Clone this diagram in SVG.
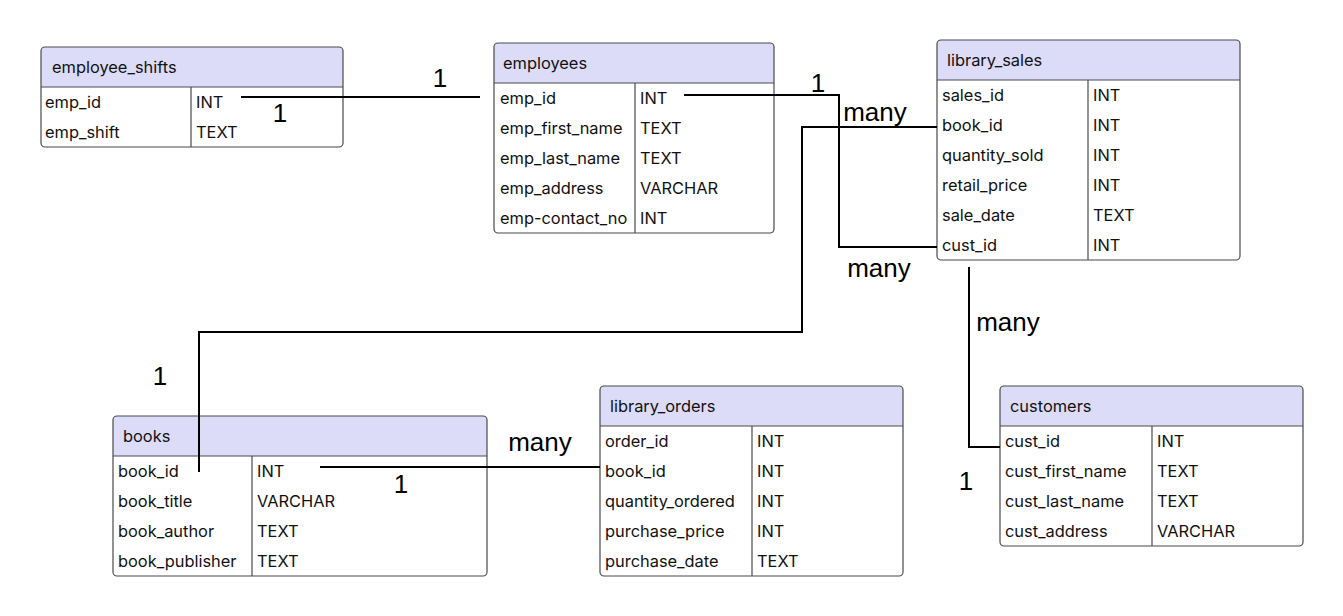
<svg xmlns="http://www.w3.org/2000/svg" width="1343" height="616" viewBox="0 0 1343 616">
<style>
.bg{fill:#ffffff}
.box{fill:none;stroke:#4a4a4a;stroke-width:1.2}
.hdr{fill:#dcdcf9}
.sep{stroke:#4a4a4a;stroke-width:1.2}
.t{font-family:Inter,"Liberation Sans",sans-serif;font-size:16.4px;fill:#111}
.conn{fill:none;stroke:#000;stroke-width:2}
.lbl{font-family:"Liberation Sans",Arial,sans-serif;font-size:26px;fill:#000;text-anchor:middle}
</style>
<rect x="0" y="0" width="1343" height="616" fill="#ffffff"/>

<g id="employee_shifts">
<rect class="bg" x="41" y="47" width="302" height="100" rx="4"/>
<path class="hdr" d="M41 87V51a4 4 0 0 1 4-4H339a4 4 0 0 1 4 4V87Z"/>
<line class="sep" x1="41" y1="87" x2="343" y2="87"/>
<line class="sep" x1="191" y1="87" x2="191" y2="147"/>
<rect class="box" x="41" y="47" width="302" height="100" rx="4"/>
<text class="t" x="52" y="73">employee_shifts</text>
<text class="t" x="45" y="108">emp_id</text><text class="t" x="196" y="108">INT</text>
<text class="t" x="45" y="138">emp_shift</text><text class="t" x="196" y="138">TEXT</text>
</g>

<g id="employees">
<rect class="bg" x="494" y="43" width="280" height="190" rx="4"/>
<path class="hdr" d="M494 83V47a4 4 0 0 1 4-4H770a4 4 0 0 1 4 4V83Z"/>
<line class="sep" x1="494" y1="83" x2="774" y2="83"/>
<line class="sep" x1="635" y1="83" x2="635" y2="233"/>
<rect class="box" x="494" y="43" width="280" height="190" rx="4"/>
<text class="t" x="503" y="69">employees</text>
<text class="t" x="500" y="104">emp_id</text><text class="t" x="640" y="104">INT</text>
<text class="t" x="500" y="134">emp_first_name</text><text class="t" x="640" y="134">TEXT</text>
<text class="t" x="500" y="164">emp_last_name</text><text class="t" x="640" y="164">TEXT</text>
<text class="t" x="500" y="194">emp_address</text><text class="t" x="640" y="194">VARCHAR</text>
<text class="t" x="500" y="224">emp-contact_no</text><text class="t" x="640" y="224">INT</text>
</g>

<g id="library_sales">
<rect class="bg" x="937" y="40" width="303" height="220" rx="4"/>
<path class="hdr" d="M937 80V44a4 4 0 0 1 4-4H1236a4 4 0 0 1 4 4V80Z"/>
<line class="sep" x1="937" y1="80" x2="1240" y2="80"/>
<line class="sep" x1="1088" y1="80" x2="1088" y2="260"/>
<rect class="box" x="937" y="40" width="303" height="220" rx="4"/>
<text class="t" x="947" y="66">library_sales</text>
<text class="t" x="942" y="101">sales_id</text><text class="t" x="1093" y="101">INT</text>
<text class="t" x="942" y="131">book_id</text><text class="t" x="1093" y="131">INT</text>
<text class="t" x="942" y="161">quantity_sold</text><text class="t" x="1093" y="161">INT</text>
<text class="t" x="942" y="191">retail_price</text><text class="t" x="1093" y="191">INT</text>
<text class="t" x="942" y="221">sale_date</text><text class="t" x="1093" y="221">TEXT</text>
<text class="t" x="942" y="251">cust_id</text><text class="t" x="1093" y="251">INT</text>
</g>

<g id="books">
<rect class="bg" x="113" y="416" width="374" height="160" rx="4"/>
<path class="hdr" d="M113 456V420a4 4 0 0 1 4-4H483a4 4 0 0 1 4 4V456Z"/>
<line class="sep" x1="113" y1="456" x2="487" y2="456"/>
<line class="sep" x1="252" y1="456" x2="252" y2="576"/>
<rect class="box" x="113" y="416" width="374" height="160" rx="4"/>
<text class="t" x="123" y="442">books</text>
<text class="t" x="118" y="477">book_id</text><text class="t" x="257" y="477">INT</text>
<text class="t" x="118" y="507">book_title</text><text class="t" x="257" y="507">VARCHAR</text>
<text class="t" x="118" y="537">book_author</text><text class="t" x="257" y="537">TEXT</text>
<text class="t" x="118" y="567">book_publisher</text><text class="t" x="257" y="567">TEXT</text>
</g>

<g id="library_orders">
<rect class="bg" x="600" y="386" width="303" height="190" rx="4"/>
<path class="hdr" d="M600 426V390a4 4 0 0 1 4-4H899a4 4 0 0 1 4 4V426Z"/>
<line class="sep" x1="600" y1="426" x2="903" y2="426"/>
<line class="sep" x1="752" y1="426" x2="752" y2="576"/>
<rect class="box" x="600" y="386" width="303" height="190" rx="4"/>
<text class="t" x="610" y="412">library_orders</text>
<text class="t" x="605" y="447">order_id</text><text class="t" x="757" y="447">INT</text>
<text class="t" x="605" y="477">book_id</text><text class="t" x="757" y="477">INT</text>
<text class="t" x="605" y="507">quantity_ordered</text><text class="t" x="757" y="507">INT</text>
<text class="t" x="605" y="537">purchase_price</text><text class="t" x="757" y="537">INT</text>
<text class="t" x="605" y="567">purchase_date</text><text class="t" x="757" y="567">TEXT</text>
</g>

<g id="customers">
<rect class="bg" x="1000" y="386" width="303" height="160" rx="4"/>
<path class="hdr" d="M1000 426V390a4 4 0 0 1 4-4H1299a4 4 0 0 1 4 4V426Z"/>
<line class="sep" x1="1000" y1="426" x2="1303" y2="426"/>
<line class="sep" x1="1152" y1="426" x2="1152" y2="546"/>
<rect class="box" x="1000" y="386" width="303" height="160" rx="4"/>
<text class="t" x="1010" y="412">customers</text>
<text class="t" x="1005" y="447">cust_id</text><text class="t" x="1157" y="447">INT</text>
<text class="t" x="1005" y="477">cust_first_name</text><text class="t" x="1157" y="477">TEXT</text>
<text class="t" x="1005" y="507">cust_last_name</text><text class="t" x="1157" y="507">TEXT</text>
<text class="t" x="1005" y="537">cust_address</text><text class="t" x="1157" y="537">VARCHAR</text>
</g>

<g id="connectors">
<polyline class="conn" points="241,97 480,97"/>
<polyline class="conn" points="684,95 839,95 839,247 937,247"/>
<polyline class="conn" points="199,472 199,332 802,332 802,127 937,127"/>
<polyline class="conn" points="320,467 600,467"/>
<polyline class="conn" points="969,267 969,447 1000,447"/>
<text class="lbl" x="440" y="87">1</text>
<text class="lbl" x="280" y="122">1</text>
<text class="lbl" x="818" y="92">1</text>
<text class="lbl" x="875" y="121">many</text>
<text class="lbl" x="879" y="277">many</text>
<text class="lbl" x="160" y="385">1</text>
<text class="lbl" x="540" y="451">many</text>
<text class="lbl" x="401" y="493">1</text>
<text class="lbl" x="1008" y="331">many</text>
<text class="lbl" x="966" y="490">1</text>
</g>
</svg>
